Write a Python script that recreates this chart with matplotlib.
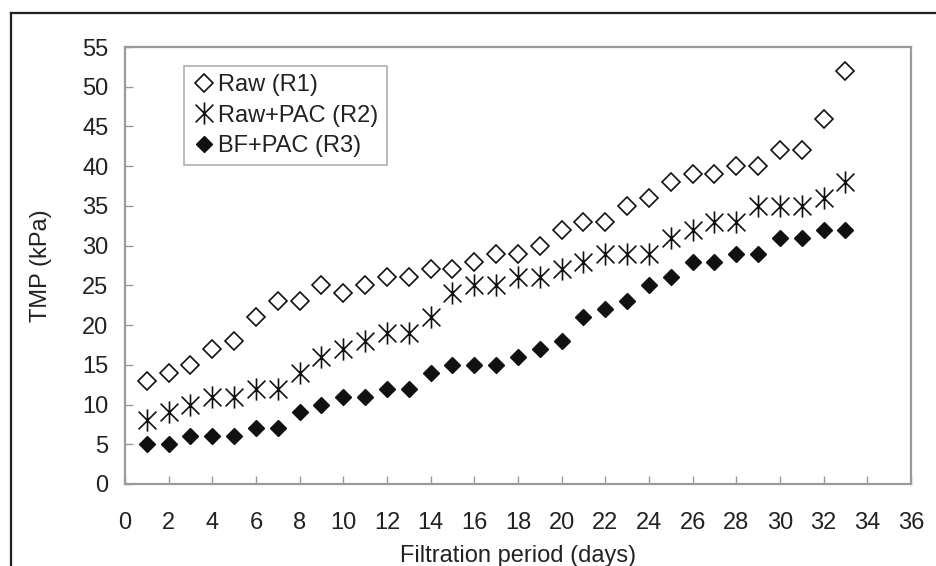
import matplotlib
matplotlib.use("Agg")
import matplotlib.pyplot as plt
from matplotlib.lines import Line2D
from matplotlib.path import Path

plt.rcParams["font.family"] = ["Liberation Sans", "DejaVu Sans"]

# data
days = list(range(1, 34))
raw_r1 = [13, 14, 15, 17, 18, 21, 23, 23, 25, 24, 25, 26, 26, 27, 27, 28, 29,
          29, 30, 32, 33, 33, 35, 36, 38, 39, 39, 40, 40, 42, 42, 46, 52]
raw_pac_r2 = [8, 9, 10, 11, 11, 12, 12, 14, 16, 17, 18, 19, 19, 21, 24, 25, 25,
              26, 26, 27, 28, 29, 29, 29, 31, 32, 33, 33, 35, 35, 35, 36, 38]
bf_pac_r3 = [5, 5, 6, 6, 6, 7, 7, 9, 10, 11, 11, 12, 12, 14, 15, 15, 15,
             16, 17, 18, 21, 22, 23, 25, 26, 28, 28, 29, 29, 31, 31, 32, 32]
labels = ["Raw (R1)", "Raw+PAC (R2)", "BF+PAC (R3)"]

# excel-style asterisk: vertical bar plus an X
star = Path([(0, -1), (0, 1), (-0.8, -0.8), (0.8, 0.8), (-0.8, 0.8), (0.8, -0.8)],
            [Path.MOVETO, Path.LINETO, Path.MOVETO, Path.LINETO, Path.MOVETO, Path.LINETO])

FS = 17

fig = plt.figure(figsize=(9.37, 5.66), dpi=100)
ax = fig.add_axes([125 / 937, 1 - 484 / 566, (911 - 125) / 937, (484 - 47) / 566])

ax.plot(days, raw_r1, linestyle="none", marker="D", markersize=9,
        markerfacecolor="white", markeredgecolor="#111111", markeredgewidth=1.2,
        label=labels[0])
ax.plot(days, raw_pac_r2, linestyle="none", marker=star, markersize=16,
        markerfacecolor="none", markeredgecolor="#111111", markeredgewidth=1.2,
        label=labels[1])
ax.plot(days, bf_pac_r3, linestyle="none", marker="D", markersize=8,
        color="#111111", label=labels[2])

ax.set_xlim(0, 36)
ax.set_ylim(0, 55)
ax.set_xticks(range(0, 37, 2))
ax.set_yticks(range(0, 56, 5))
for s in ax.spines.values():
    s.set_color("#9a9a9a")
    s.set_linewidth(1.6)
ax.tick_params(axis="both", direction="in", length=6, width=1, color="#9a9a9a",
               labelsize=FS, labelcolor="#222222")
ax.tick_params(axis="x", pad=20)
ax.tick_params(axis="y", pad=12)
ax.set_xlabel("Filtration period (days)", fontsize=FS, color="#222222", labelpad=8)
ax.set_ylabel("TMP (kPa)", fontsize=FS, color="#222222", labelpad=22)

leg = ax.legend(loc="upper left", bbox_to_anchor=(59 / 786, 1 - 19 / 437),
                fontsize=FS, frameon=True, fancybox=False, handletextpad=0.1,
                handlelength=1.0, labelspacing=0.35, borderpad=0.35,
                borderaxespad=0)
leg.get_frame().set_edgecolor("#9a9a9a")
leg.get_frame().set_linewidth(1.2)
for t in leg.get_texts():
    t.set_color("#222222")

# outer frame of the original figure (top and left edges)
fig.add_artist(Line2D([11 / 937, 1], [1 - 13 / 566, 1 - 13 / 566], color="#222222",
                      linewidth=1.6, transform=fig.transFigure))
fig.add_artist(Line2D([11 / 937, 11 / 937], [0, 1 - 13 / 566], color="#222222",
                      linewidth=1.6, transform=fig.transFigure))

fig.savefig("out.png", dpi=100)
